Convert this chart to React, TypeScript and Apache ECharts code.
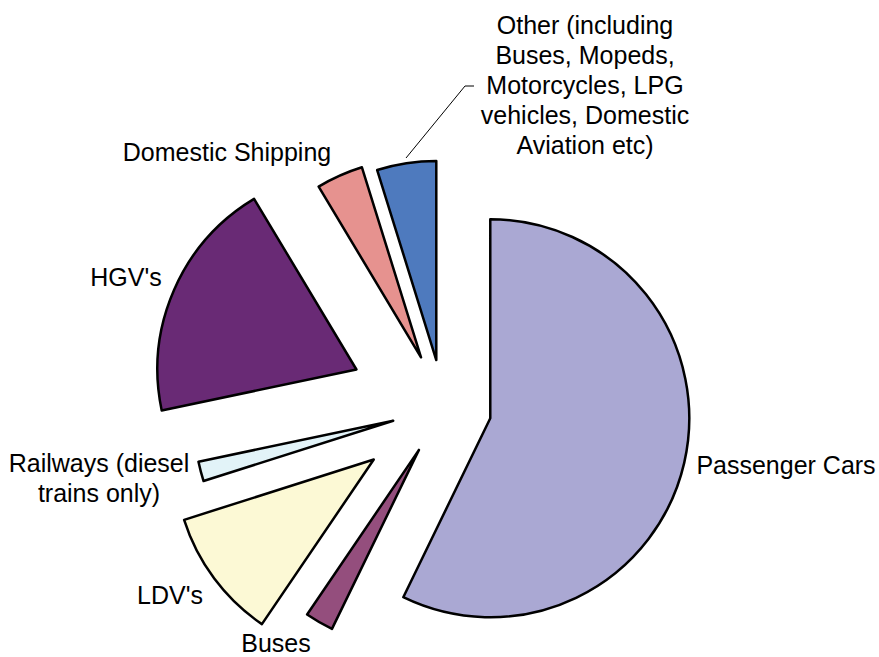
import React, { useEffect, useRef } from "react";
import * as echarts from "echarts";

// Transport categories (clockwise from 12 o'clock)
const categories = [
  "Passenger Cars",
  "Buses",
  "LDV's",
  "Railways (diesel\ntrains only)",
  "HGV's",
  "Domestic Shipping",
  "Other (including\nBuses, Mopeds,\nMotorcycles, LPG\nvehicles, Domestic\nAviation etc)",
];

// Share of emissions, %
const shares = [57.2, 2.3, 10.6, 1.6, 19.7, 3.8, 4.8];

// Styling / layout (kept separate from data)
const colors = ["#aaa8d3", "#944e7d", "#fcf9d5", "#e2f3f8", "#692a75", "#e6928f", "#4e7abe"];
const explode = [48, 49, 87, 52, 95, 55, 48];
const labelCenters: number[][] = [
  [786, 465],
  [276, 643],
  [170, 595],
  [99, 478],
  [126, 277],
  [227, 152],
  [585, 85],
];
const otherLeader = [
  [406, 158],
  [465, 86],
  [474, 86],
];

const FONT = "'Liberation Sans', Arial, Helvetica, sans-serif";
const CENTER = [443.5, 407.5];
const RADIUS = 199;

export default function App() {
  const ref = useRef<HTMLDivElement>(null);

  useEffect(() => {
    if (!ref.current) return;
    const chart = echarts.init(ref.current, undefined, { renderer: "svg" });

    // One series per exploded slice (each with its own explosion distance)
    const sliceSeries = categories.map((_, i) => ({
      type: "pie" as const,
      center: CENTER,
      radius: RADIUS,
      startAngle: 90,
      clockwise: true,
      selectedMode: "multiple" as const,
      selectedOffset: explode[i],
      avoidLabelOverlap: false,
      silent: true,
      emphasis: { disabled: true },
      label: { show: false },
      labelLine: { show: false },
      data: categories.map((name, j) => {
        const own = j === i;
        const style = own
          ? { color: colors[j], borderColor: "#000", borderWidth: 2.5 }
          : { color: "rgba(0,0,0,0)", borderWidth: 0 };
        return {
          name,
          value: shares[j],
          selected: own,
          itemStyle: style,
          select: { itemStyle: style },
        };
      }),
    }));

    // Label-only series (not exploded) carrying the data labels
    const labelSeries = {
      type: "pie" as const,
      center: CENTER,
      radius: RADIUS,
      startAngle: 90,
      clockwise: true,
      avoidLabelOverlap: false,
      silent: true,
      emphasis: { disabled: true },
      itemStyle: { color: "rgba(0,0,0,0)", borderWidth: 0 },
      label: {
        show: true,
        formatter: "{b}",
        fontSize: 25,
        lineHeight: 30,
        fontFamily: FONT,
        color: "#000",
        align: "center",
      },
      labelLine: { show: false },
      data: categories.map((name, j) => ({
        name,
        value: shares[j],
        label: j === 1 ? { lineHeight: 25 } : undefined,
        labelLine: {
          show: j === 6,
          lineStyle: { color: "#000", width: 1 },
        },
      })),
      labelLayout: (params: any) => {
        const i = params.dataIndex;
        const out: any = {
          x: labelCenters[i][0],
          y: labelCenters[i][1],
          align: "center",
          verticalAlign: "middle",
        };
        if (i === 6) out.labelLinePoints = otherLeader;
        return out;
      },
    };

    chart.setOption({
      animation: false,
      backgroundColor: "#ffffff",
      series: [...sliceSeries, labelSeries],
    });

    return () => chart.dispose();
  }, []);

  return (
    <div
      ref={ref}
      style={{ position: "absolute", left: 0, top: 0, width: 879, height: 657 }}
    />
  );
}
